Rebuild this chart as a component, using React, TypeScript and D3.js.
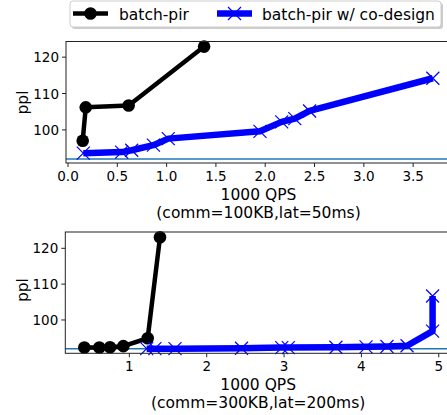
import React from "react";
import * as d3 from "d3";

// top panel (comm=100KB, lat=50ms)
const topBatchQps = [0.149, 0.18, 0.615, 1.38];
const topBatchPpl = [97.0, 106.2, 106.7, 122.9];
const topCoQps = [0.155, 0.544, 0.646, 0.866, 1.017, 1.947, 2.167, 2.3, 2.45, 3.7];
const topCoPpl = [93.6, 93.9, 94.4, 95.8, 97.6, 99.6, 102.2, 103.1, 105.2, 114.2];

// bottom panel (comm=300KB, lat=200ms)
const botBatchQps = [0.418, 0.612, 0.75, 0.922, 1.237, 1.396];
const botBatchPpl = [92.3, 92.3, 92.4, 92.7, 94.9, 123.1];
const botCoQps = [1.224, 1.33, 1.59, 2.45, 2.97, 3.055, 3.67, 4.06, 4.33, 4.59, 4.92, 4.92];
const botCoPpl = [92.0, 92.0, 92.0, 92.1, 92.3, 92.3, 92.4, 92.5, 92.6, 92.8, 96.9, 106.7];

const baselinePpl = 92.0;
const topXTicks = [0, 0.5, 1.0, 1.5, 2.0, 2.5, 3.0, 3.5];
const botXTicks = [1, 2, 3, 4, 5];
const yTicks = [100, 110, 120];
const seriesNames = ["batch-pir", "batch-pir w/ co-design"];

const FONT = "DejaVu Sans, sans-serif";

const App = () => {
  const svgRef = React.useRef(null);

  React.useEffect(() => {
    const svg = d3.select(svgRef.current);
    svg.selectAll("*").remove();

    const panels = [
      {
        bx: topBatchQps, by: topBatchPpl, cx: topCoQps, cy: topCoPpl,
        xDomain: [-0.0203, 3.884], xRange: [66, 451],
        yDomain: [90.9, 124.3], yRange: [163, 41.5],
        xTicks: topXTicks, fmt: d3.format(".1f"),
        sub: "(comm=100KB,lat=50ms)",
      },
      {
        bx: botBatchQps, by: botBatchPpl, cx: botCoQps, cy: botCoPpl,
        xDomain: [0.172, 5.158], xRange: [65.3, 451],
        yDomain: [90.7, 124.55], yRange: [353.3, 232],
        xTicks: botXTicks, fmt: d3.format("d"),
        sub: "(comm=300KB,lat=200ms)",
      },
    ];

    panels.forEach((p) => {
      const x = d3.scaleLinear().domain(p.xDomain).range(p.xRange);
      const y = d3.scaleLinear().domain(p.yDomain).range(p.yRange);
      const g = svg.append("g");
      const [x0, x1] = p.xRange;
      const [y0, y1] = p.yRange;

      // baseline
      g.append("line")
        .attr("x1", x0).attr("x2", x1)
        .attr("y1", y(baselinePpl)).attr("y2", y(baselinePpl))
        .attr("stroke", "#1f77b4").attr("stroke-width", 1.5);

      const line = d3.line().x((d) => x(d[0])).y((d) => y(d[1]));

      const batch = d3.zip(p.bx, p.by);
      g.append("path")
        .attr("d", line(batch))
        .attr("fill", "none").attr("stroke", "black")
        .attr("stroke-width", 4.5).attr("stroke-linejoin", "round");
      g.selectAll(".dot").data(batch).enter().append("circle")
        .attr("cx", (d) => x(d[0])).attr("cy", (d) => y(d[1]))
        .attr("r", 6.3).attr("fill", "black");

      const co = d3.zip(p.cx, p.cy);
      g.append("path")
        .attr("d", line(co))
        .attr("fill", "none").attr("stroke", "blue")
        .attr("stroke-width", 6.5).attr("stroke-linejoin", "round");
      const s = 6.5;
      g.selectAll(".xm").data(co).enter().append("path")
        .attr("d", (d) => {
          const px = x(d[0]), py = y(d[1]);
          return `M${px - s},${py - s}L${px + s},${py + s}M${px - s},${py + s}L${px + s},${py - s}`;
        })
        .attr("stroke", "blue").attr("stroke-width", 1.2).attr("fill", "none");

      // spines
      g.append("rect")
        .attr("x", x0).attr("y", y1)
        .attr("width", x1 - x0).attr("height", y0 - y1)
        .attr("fill", "none").attr("stroke", "#222").attr("stroke-width", 1);

      // x ticks
      p.xTicks.forEach((t) => {
        g.append("line")
          .attr("x1", x(t)).attr("x2", x(t))
          .attr("y1", y0).attr("y2", y0 + 4)
          .attr("stroke", "#222").attr("stroke-width", 1);
        g.append("text")
          .attr("x", x(t)).attr("y", y0 + 17.7)
          .attr("text-anchor", "middle")
          .attr("font-family", FONT).attr("font-size", 13.5)
          .text(p.fmt(t));
      });

      // y ticks
      yTicks.forEach((t) => {
        g.append("line")
          .attr("x1", x0 - 4).attr("x2", x0)
          .attr("y1", y(t)).attr("y2", y(t))
          .attr("stroke", "#222").attr("stroke-width", 1);
        g.append("text")
          .attr("x", x0 - 7).attr("y", y(t) + 5)
          .attr("text-anchor", "end")
          .attr("font-family", FONT).attr("font-size", 13.5)
          .text(t);
      });

      const cx = (x0 + x1) / 2;
      g.append("text")
        .attr("x", cx).attr("y", y0 + 36.5)
        .attr("text-anchor", "middle")
        .attr("font-family", FONT).attr("font-size", 15.5)
        .text("1000 QPS");
      g.append("text")
        .attr("x", cx).attr("y", y0 + 54.5)
        .attr("text-anchor", "middle")
        .attr("font-family", FONT).attr("font-size", 15.5)
        .text(p.sub);

      const cy = y(110) + (p === panels[0] ? 9 : 6);
      g.append("text")
        .attr("transform", `translate(28,${cy}) rotate(-90)`)
        .attr("text-anchor", "middle")
        .attr("font-family", FONT).attr("font-size", 15.5)
        .text("ppl");
    });

    // legend
    const lg = svg.append("g");
    lg.append("rect")
      .attr("x", 72).attr("y", 3).attr("width", 371).attr("height", 26)
      .attr("rx", 3).attr("fill", "#999").attr("opacity", 0.5);
    lg.append("rect")
      .attr("x", 70).attr("y", 1).attr("width", 371).attr("height", 26)
      .attr("rx", 3).attr("fill", "white").attr("stroke", "#ccc");
    const ly = 13.5;
    lg.append("line").attr("x1", 73).attr("x2", 108).attr("y1", ly).attr("y2", ly)
      .attr("stroke", "black").attr("stroke-width", 4.5);
    lg.append("circle").attr("cx", 90.5).attr("cy", ly).attr("r", 6.3).attr("fill", "black");
    lg.append("text").attr("x", 119).attr("y", ly + 6)
      .attr("font-family", FONT).attr("font-size", 15.5).text(seriesNames[0]);
    lg.append("line").attr("x1", 217).attr("x2", 252).attr("y1", ly).attr("y2", ly)
      .attr("stroke", "blue").attr("stroke-width", 6.5);
    const mx = 234.5, s = 6.5;
    lg.append("path")
      .attr("d", `M${mx - s},${ly - s}L${mx + s},${ly + s}M${mx - s},${ly + s}L${mx + s},${ly - s}`)
      .attr("stroke", "blue").attr("stroke-width", 1.2);
    lg.append("text").attr("x", 262).attr("y", ly + 6)
      .attr("font-family", FONT).attr("font-size", 15.5).text(seriesNames[1]);
  }, []);

  return (
    <svg
      ref={svgRef}
      width={447}
      height={415}
      style={{ position: "absolute", left: 0, top: 0, background: "white" }}
    />
  );
};

export default App;
